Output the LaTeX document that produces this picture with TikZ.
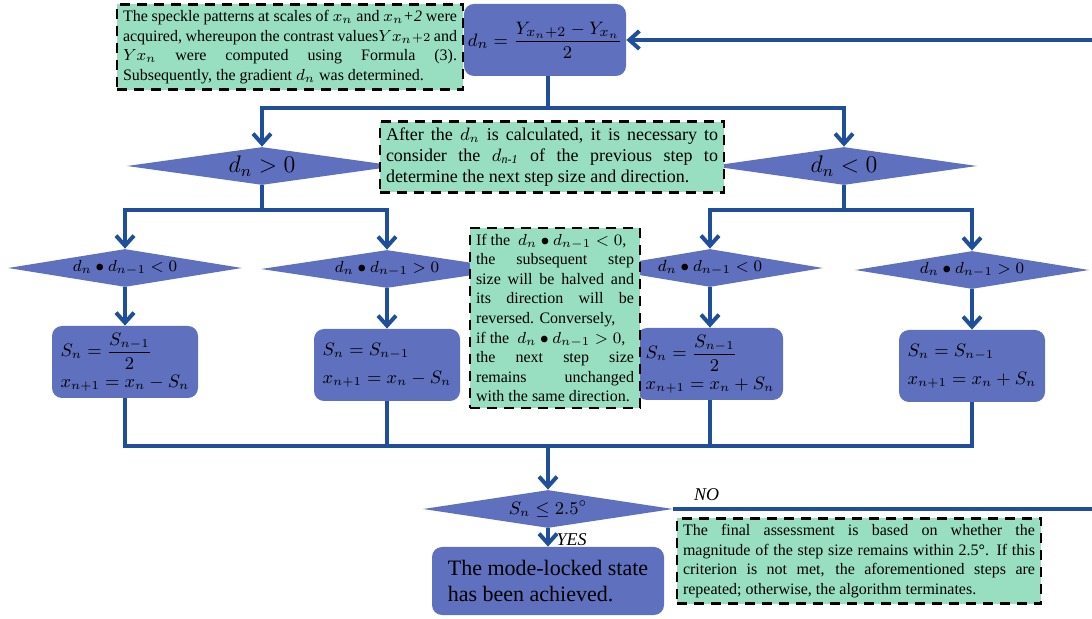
\documentclass[tikz,border=0pt]{standalone}
\usepackage{amsmath}
\usepackage{fontspec}
\setmainfont{Liberation Serif}
\usetikzlibrary{shapes,arrows.meta}
\definecolor{boxblue}{RGB}{94,112,190}
\definecolor{flowblue}{RGB}{31,78,155}
\definecolor{notegreen}{RGB}{152,222,192}
\tikzstyle{decision} = [diamond, fill=boxblue, aspect=6, inner sep=0pt,
    minimum width=117pt, minimum height=19pt, font=\fontsize{8.5}{10}\selectfont]
\tikzstyle{block} = [rectangle, fill=boxblue, rounded corners=5pt, align=left,
    minimum width=73pt, minimum height=36pt, font=\fontsize{9}{11}\selectfont]
\tikzstyle{note} = [rectangle, draw, dash pattern=on 5pt off 3.5pt, line width=1.3pt,
    fill=notegreen, align=justify, inner sep=3pt, font=\fontsize{8}{9.8}\selectfont]
\tikzstyle{line} = [draw=flowblue, line width=2pt, -{Straight Barb[length=5pt,width=9pt]}]
\tikzstyle{link} = [draw=flowblue, line width=2pt]
\tikzstyle{answer} = [font=\fontsize{9}{11}\selectfont\itshape]

\begin{document}
\begin{tikzpicture}[x=0.5pt, y=-0.5pt]
    \useasboundingbox (0,0) rectangle (1092,619);
    % Place nodes
    \node [block, minimum width=75pt, inner sep=2pt, font=\fontsize{9.5}{11}\selectfont] (calc) at (545,40)
        {$d_n=\dfrac{Y_{x_n+2}-Y_{x_n}}{2}$};
    \node [decision, minimum width=135pt, font=\fontsize{12}{14}\selectfont] (dgt) at (262,166) {$d_n > 0$};
    \node [decision, minimum width=133pt, font=\fontsize{12}{14}\selectfont] (dlt) at (844,166) {$d_n < 0$};
    \node [decision] (neg1) at (125,268) {$d_n \bullet d_{n-1} < 0$};
    \node [decision, minimum width=126pt] (pos1) at (387,269) {$d_n \bullet d_{n-1} > 0$};
    \node [decision, minimum width=113pt] (neg2) at (710,268) {$d_n \bullet d_{n-1} < 0$};
    \node [decision] (pos2) at (972,270) {$d_n \bullet d_{n-1} > 0$};
    \node [block, below of=neg1, node distance=47pt] (half1)
        {$S_n=\dfrac{S_{n-1}}{2}$\\[2pt] $x_{n+1}=x_n-S_n$};
    \node [block, below of=pos1, node distance=48pt] (keep1)
        {$S_n=S_{n-1}$\\[3pt] $x_{n+1}=x_n-S_n$};
    \node [block, below of=neg2, node distance=48pt] (half2)
        {$S_n=\dfrac{S_{n-1}}{2}$\\[2pt] $x_{n+1}=x_n+S_n$};
    \node [block, below of=pos2, node distance=48pt] (keep2)
        {$S_n=S_{n-1}$\\[3pt] $x_{n+1}=x_n+S_n$};
    \node [decision, minimum width=125pt, font=\fontsize{9}{11}\selectfont] (check) at (548,509)
        {$S_n \le 2.5^\circ$};
    \node [block, below of=check, node distance=36pt, minimum width=116pt, minimum height=34pt,
        font=\fontsize{11}{13}\selectfont] (done) {The mode-locked state\\has been achieved.};
    \coordinate (fork) at (548,108);
    \coordinate (forkl) at (262,210);
    \coordinate (forkr) at (844,210);
    \coordinate (merge) at (548,446);
    \coordinate (back) at (1100,509);
    % Connectors
    \path [link] (calc.south -| fork) -- (fork);
    \path [line] (fork) -| (dgt);
    \path [line] (fork) -| (dlt);
    \path [link] (dgt) -- (forkl);
    \path [line] (forkl) -| (neg1);
    \path [line] (forkl) -| (pos1);
    \path [link] (dlt) -- (forkr);
    \path [line] (forkr) -| (neg2);
    \path [line] (forkr) -| (pos2);
    \path [line] (neg1) -- (half1);
    \path [line] (pos1) -- (keep1);
    \path [line] (neg2) -- (half2);
    \path [line] (pos2) -- (keep2);
    \path [link] (half1) |- (merge);
    \path [link] (keep1) |- (merge);
    \path [link] (half2) |- (merge);
    \path [link] (keep2) |- (merge);
    \path [line] (merge) -- (check);
    \path [line] (check) -- node [answer, right, pos=0.6] {YES} (done);
    \path [line] (check) -- node [answer, above right, pos=0, xshift=6pt] {NO} (back) |- (calc);
    % Notes
    \node [note, text width=167pt] (info) at (290,47)
        {The speckle patterns at scales of $x_n$ and $x_n$\textit{+2} were\linebreak
        acquired, whereupon the contrast values$Yx_n{\scriptstyle +2}$ and\linebreak
        $Yx_n$ were computed using Formula (3).\linebreak
        Subsequently, the gradient $d_n$ was determined.};
    \node [note, text width=166pt, font=\fontsize{9}{10.5}\selectfont] (hint) at (552,157)
        {After the $d_n$ is calculated, it is necessary to\linebreak
        consider the $d_{\textit{n-1}}$ of the previous step to\linebreak
        determine the next step size and direction.};
    \node [note, text width=79pt] (rule) at (555,318)
        {If the \ $d_n\bullet d_{n-1}<0$,\\
        the subsequent step\linebreak
        size will be halved and\linebreak
        its direction will be\linebreak
        reversed. Conversely,\\
        if the \ $d_n\bullet d_{n-1}>0$,\\
        the next step size\linebreak
        remains unchanged\linebreak
        with the same direction.};
    \node [note, text width=176pt] (stop) at (859,561)
        {The final assessment is based on whether the\linebreak
        magnitude of the step size remains within 2.5\textbf{°}. If this\linebreak
        criterion is not met, the aforementioned steps are\linebreak
        repeated; otherwise, the algorithm terminates.};
\end{tikzpicture}
\end{document}
